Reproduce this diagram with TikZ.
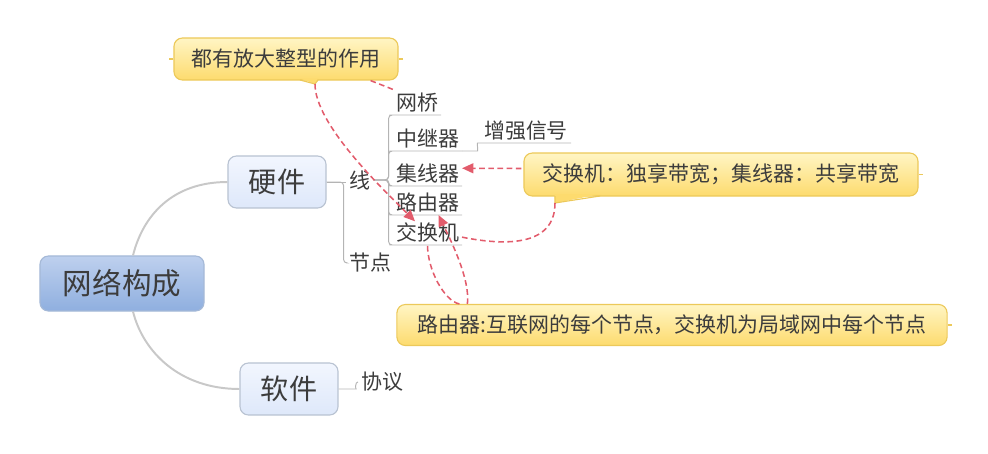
\documentclass[tikz,border=0pt]{standalone}
\usepackage{fontspec}
\setmainfont{Noto Sans CJK SC}
\usepackage{tikz}
\usetikzlibrary{arrows.meta, positioning, calc}
\usepackage{xcolor}
\definecolor{maptext}{RGB}{60, 60, 60}
\definecolor{mapline}{RGB}{200, 200, 200}
\definecolor{leafline}{RGB}{180, 180, 180}
\definecolor{roottop}{RGB}{190, 208, 238}
\definecolor{rootbottom}{RGB}{143, 175, 223}
\definecolor{rootborder}{RGB}{165, 185, 215}
\definecolor{branchtop}{RGB}{242, 246, 254}
\definecolor{branchbottom}{RGB}{222, 232, 250}
\definecolor{branchborder}{RGB}{185, 195, 210}
\definecolor{notetop}{RGB}{255, 245, 196}
\definecolor{notebottom}{RGB}{253, 219, 110}
\definecolor{noteborder}{RGB}{236, 201, 90}
\definecolor{relred}{RGB}{226, 92, 108}
\tikzstyle{rootbox} = [rectangle, rounded corners=6pt, minimum width=4.1cm, minimum height=1.375cm,
                       draw=rootborder, top color=roottop, bottom color=rootbottom, line width=0.8pt,
                       text=maptext, font=\fontsize{21pt}{25pt}\selectfont]
\tikzstyle{branchbox} = [rectangle, rounded corners=6pt, minimum width=2.45cm, minimum height=1.3cm,
                         draw=branchborder, top color=branchtop, bottom color=branchbottom, line width=0.8pt,
                         text=maptext, font=\fontsize{20pt}{24pt}\selectfont]
\tikzstyle{note} = [rectangle, rounded corners=6pt, minimum height=1.05cm,
                    draw=noteborder, top color=notetop, bottom color=notebottom, line width=0.8pt,
                    text=maptext, font=\fontsize{14.9pt}{18pt}\selectfont]
\tikzstyle{leaf} = [inner xsep=2pt, inner ysep=2pt, anchor=south west, text=maptext,
                    font=\fontsize{14.9pt}{18pt}\selectfont]
\tikzstyle{topic} = [inner sep=2pt, text=maptext, font=\fontsize{14.9pt}{18pt}\selectfont]
\tikzstyle{trunk} = [mapline, line width=1.4pt]
\tikzstyle{twig} = [leafline, line width=0.7pt, rounded corners=2.5pt]
\tikzstyle{relation} = [relred, line width=1.1pt, dash pattern=on 4pt off 2.5pt]
\tikzstyle{relarrow} = [relation, -{Triangle[length=8pt, width=7pt]}]

\begin{document}
\begin{tikzpicture}[x=0.025cm, y=-0.025cm]
\useasboundingbox (0,0) rectangle (988,454);

% Central topic
\node[rootbox] (net) at (122, 283.5) {网络构成};

% Main branches
\node[branchbox] (hw) at (277, 182) {硬件};
\node[branchbox] (sw) at (289, 389) {软件};
\draw[trunk] ([xshift=0.275cm]net.north) .. controls +(10,-40) and +(-55,0) .. (hw.west);
\draw[trunk] ([xshift=0.275cm]net.south) .. controls +(10,40) and +(-60,0) .. (sw.west);

% Hardware topics
\node[topic] (xian) at (360, 180) {线};
\node[topic] (jiedian) at (370, 263) {节点};
\draw[twig] (hw.east) -- (hw.east -| xian.west);
\draw[twig] (hw.east) -- ++(17,0) |- (jiedian.west);

% Leaves
\node[leaf] (wangqiao) at (393, 115) {网桥};
\node[leaf] (zhongjiqi) at (393, 151) {中继器};
\node[leaf] (jixianqi) at (393, 186) {集线器};
\node[leaf] (luyouqi) at (393, 215) {路由器};
\node[leaf] (jiaohuanji) at (393, 245) {交换机};
\node[leaf] (zengqiang) at (481, 143) {增强信号};
\foreach \leafname in {wangqiao, zhongjiqi, jixianqi, luyouqi, jiaohuanji}
  \draw[twig] (xian.east) -- ++(15,0) |- (\leafname.south west) -- (\leafname.south east);
\draw[twig] (zhongjiqi.south east) -- ++(12,0) .. controls +(4,0) and +(-4,0) .. (zengqiang.south west) -- (zengqiang.south east);

% Software topic
\node[topic] (xieyi) at (382, 382) {协议};
\draw[twig] (sw.east) -- ++(14,0) .. controls +(3,0) and +(-3,0) .. (xieyi.west);

% Notes
\node[note, minimum width=5.6cm] (noteamp) at (286, 59) {都有放大整型的作用};
\node[note, minimum width=9.85cm, minimum height=1.075cm] (noteband) at (721, 174.5) {交换机：独享带宽；集线器：共享带宽};
\node[note, minimum width=13.75cm, minimum height=1.025cm] (notenode) at (672, 325) {路由器:互联网的每个节点，交换机为局域网中每个节点};

% Note tails and ticks
\coordinate (amptail) at (315, 84);
\coordinate (bandtail) at (555, 203);
\fill[notebottom] (300, 78.5) -- (amptail) -- (318, 78.5) -- cycle;
\draw[noteborder, line width=0.8pt] (300, 80) -- (amptail) -- (318, 80);
\fill[notebottom] (554.5, 194) -- (bandtail) -- (601, 194) -- cycle;
\draw[noteborder, line width=0.8pt] (555, 196) -- (bandtail) -- (600, 196);
\draw[noteborder, line width=0.8pt] (noteamp.west) -- ++(-4,0);
\draw[noteborder, line width=0.8pt] (noteamp.east) -- ++(4,0);
\draw[noteborder, line width=0.8pt] (noteband.east) -- ++(4,0);
\draw[noteborder, line width=0.8pt] (notenode.east) -- ++(4,0);

% Relations
\draw[relation] ([xshift=-0.7cm]noteamp.south east) -- (wangqiao.north west);
\draw[relarrow] (amptail) .. controls +(0,40) and +(-35,-35) .. ([xshift=0.55cm, yshift=-0.05cm]jiaohuanji.north west);
\draw[relarrow] ([xshift=-0.05cm, yshift=0.15cm]noteband.west) -- ([yshift=0.125cm]jixianqi.east);
\draw[relation] (bandtail) .. controls +(0,45) and +(40,8) .. ([yshift=-0.125cm]jiaohuanji.east);
\draw[relarrow] ([xshift=1.775cm]notenode.north west) .. controls +(3,-25) and +(12,25) .. ([xshift=0.275cm]luyouqi.south);
\draw[relation] ([xshift=1.575cm]notenode.north west) .. controls +(-15,-3) and +(0,25) .. (jiaohuanji.south);

\end{tikzpicture}
\end{document}
